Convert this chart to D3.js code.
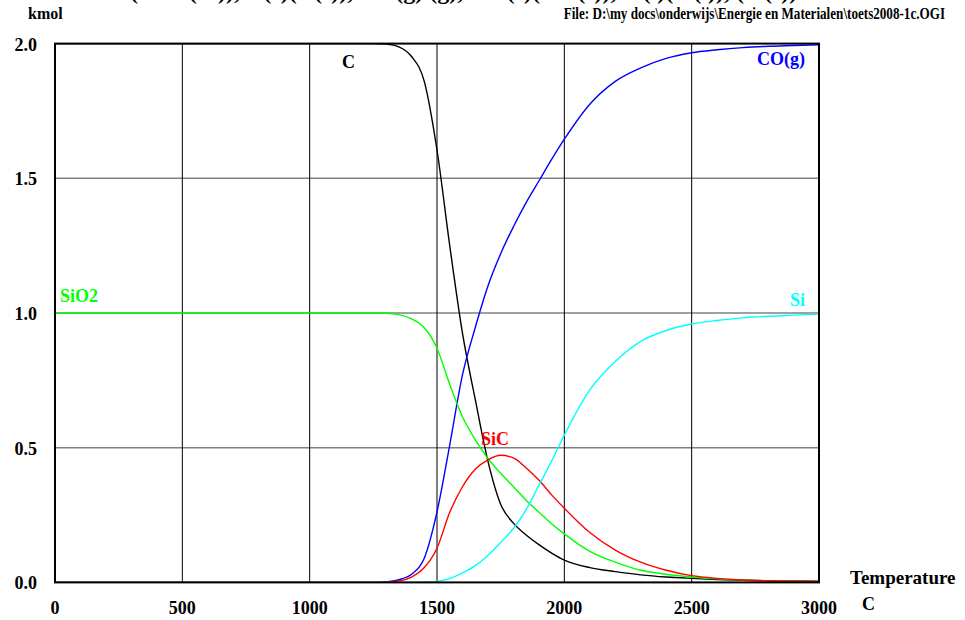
<!DOCTYPE html>
<html>
<head>
<meta charset="utf-8">
<script src="https://cdn.jsdelivr.net/npm/d3@7"></script>
<style>
  body { margin: 0; background: #fff; }
  text { font-family: "Liberation Serif", "Times New Roman", serif; font-weight: bold; }
</style>
</head>
<body>
<div id="chart"></div>
<script>
// temperatures (C) and amounts (kmol)
const temps = [0, 500, 1000, 1250, 1300, 1350, 1400, 1450, 1500, 1550, 1600, 1650, 1700, 1750, 1800, 1850, 1900, 1950, 2000, 2100, 2200, 2300, 2400, 2500, 2600, 2700, 2800, 2900, 3000];
const cSolid = [2, 2, 2, 2, 1.998, 1.988, 1.952, 1.86, 1.605, 1.25, 0.925, 0.68, 0.45, 0.29, 0.22, 0.176, 0.14, 0.109, 0.083, 0.055, 0.04, 0.028, 0.02, 0.015, 0.011, 0.008, 0.006, 0.005, 0.004];
const coGas = [0, 0, 0, 0, 0.002, 0.01, 0.03, 0.09, 0.262, 0.51, 0.77, 0.945, 1.10, 1.22, 1.32, 1.41, 1.49, 1.57, 1.645, 1.775, 1.86, 1.91, 1.945, 1.966, 1.977, 1.985, 1.99, 1.993, 1.996];
const sio2 = [1, 1, 1, 1, 0.999, 0.994, 0.978, 0.945, 0.869, 0.735, 0.615, 0.53, 0.46, 0.405, 0.355, 0.305, 0.26, 0.218, 0.18, 0.115, 0.075, 0.045, 0.03, 0.02, 0.013, 0.009, 0.006, 0.004, 0.003];
const sic = [0, 0, 0, 0, 0.001, 0.005, 0.02, 0.055, 0.127, 0.26, 0.355, 0.42, 0.455, 0.472, 0.462, 0.425, 0.38, 0.325, 0.275, 0.185, 0.12, 0.075, 0.045, 0.025, 0.015, 0.009, 0.006, 0.004, 0.003];
const si = [0, 0, 0, 0, 0, 0, 0, 0.001, 0.004, 0.014, 0.035, 0.062, 0.1, 0.148, 0.2, 0.27, 0.36, 0.45, 0.547, 0.715, 0.82, 0.895, 0.935, 0.959, 0.972, 0.982, 0.988, 0.992, 0.996];

const xTicks = [0, 500, 1000, 1500, 2000, 2500, 3000];
const yTicks = [0, 0.5, 1.0, 1.5, 2.0];

const series = [
    { name: "C", values: cSolid, color: "#000000", lx: 1127, ly: 1.91, anchor: "start" },
    { name: "CO(g)", values: coGas, color: "#0000ff", lx: 2945, ly: 1.92, anchor: "end" },
    { name: "SiO2", values: sio2, color: "#00ff00", lx: 20, ly: 1.04, anchor: "start" },
    { name: "SiC", values: sic, color: "#ff0000", lx: 1673, ly: 0.51, anchor: "start", box: true },
    { name: "Si", values: si, color: "#00ffff", lx: 2945, ly: 1.026, anchor: "end" }
];

const width = 965, height = 620;
const margin = ({ top: 43.6, right: 146, bottom: 37.6, left: 55 });
const w = width - margin.left - margin.right,
    h = height - margin.top - margin.bottom;

let svg = d3.select("#chart").append("svg")
    .attr("width", width)
    .attr("height", height);

let xScale = d3.scaleLinear().domain([0, 3000]).range([margin.left, margin.left + w]);
let yScale = d3.scaleLinear().domain([0, 2]).range([margin.top + h, margin.top]);

// title line, mostly above the top edge as in the original
svg.append("text")
    .attr("x", 40)
    .attr("y", -1)
    .attr("font-size", 24)
    .text("Amount (SiO2(s2)), C(s)(C(s)), CO(g) (g), SiC(s)(SiC(s)), Si(l)(Si(l)), (Si(s))");

svg.append("text").attr("x", 28).attr("y", 19).attr("font-size", 16).text("kmol");
svg.append("text")
    .attr("transform", "translate(945,19) scale(0.82,1)")
    .attr("font-size", 16)
    .attr("text-anchor", "end")
    .text("File: D:\\my docs\\onderwijs\\Energie en Materialen\\toets2008-1c.OGI");

// grid
svg.append("g").selectAll("line")
    .data(yTicks.slice(1, -1))
    .join("line")
    .attr("x1", xScale(0)).attr("x2", xScale(3000))
    .attr("y1", d => yScale(d)).attr("y2", d => yScale(d))
    .attr("stroke", "#808080").attr("stroke-width", 1.5);

svg.append("g").selectAll("line")
    .data(xTicks.slice(1, -1))
    .join("line")
    .attr("x1", d => xScale(d)).attr("x2", d => xScale(d))
    .attr("y1", yScale(0)).attr("y2", yScale(2))
    .attr("stroke", "#000").attr("stroke-width", 1);

// axes labels
svg.append("g").selectAll("text")
    .data(xTicks)
    .join("text")
    .attr("x", d => xScale(d))
    .attr("y", 614)
    .attr("text-anchor", "middle")
    .attr("font-size", 18)
    .text(d => d);

svg.append("g").selectAll("text")
    .data(yTicks)
    .join("text")
    .attr("x", 37)
    .attr("y", d => yScale(d) + 7)
    .attr("text-anchor", "end")
    .attr("font-size", 18)
    .text(d => d3.format(".1f")(d));

svg.append("text").attr("x", 850).attr("y", 584).attr("font-size", 19).text("Temperature");
svg.append("text").attr("x", 862).attr("y", 610).attr("font-size", 18).text("C");

// curves
let line = d3.line()
    .x((d, i) => xScale(temps[i]))
    .y(d => yScale(d))
    .curve(d3.curveMonotoneX);

svg.append("g").selectAll("path")
    .data(series)
    .join("path")
    .attr("fill", "none")
    .attr("stroke", d => d.color)
    .attr("stroke-width", 1.4)
    .attr("d", d => line(d.values));

// frame
svg.append("rect")
    .attr("x", xScale(0)).attr("y", yScale(2))
    .attr("width", xScale(3000) - xScale(0))
    .attr("height", yScale(0) - yScale(2))
    .attr("fill", "none").attr("stroke", "#000").attr("stroke-width", 2);

// curve labels
series.forEach(s => {
    let t = svg.append("text")
        .attr("x", xScale(s.lx))
        .attr("y", yScale(s.ly))
        .attr("text-anchor", s.anchor)
        .attr("font-size", 18)
        .attr("fill", s.color)
        .text(s.name);
    if (s.box) {
        let b = t.node().getBBox();
        svg.insert("rect", "text")
            .attr("x", b.x).attr("y", b.y + 2)
            .attr("width", b.width).attr("height", b.height - 2)
            .attr("fill", "#fff");
    }
});
</script>
</body>
</html>
